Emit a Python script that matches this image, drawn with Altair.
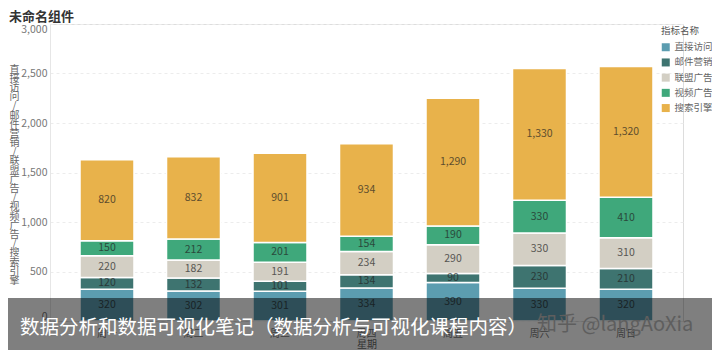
import altair as alt
import pandas as pd

days = ["周一", "周二", "周三", "周四", "周五", "周六", "周日"]
series = ["直接访问", "邮件营销", "联盟广告", "视频广告", "搜索引擎"]
direct = [320, 302, 301, 334, 390, 330, 320]
email = [120, 132, 101, 134, 90, 230, 210]
union = [220, 182, 191, 234, 290, 330, 310]
video = [150, 212, 201, 154, 190, 330, 410]
search = [820, 832, 901, 934, 1290, 1330, 1320]
colors = ["#5c9db0", "#3e7470", "#d3cfc4", "#3fa87b", "#e8b24b"]
y_ticks = [0, 500, 1000, 1500, 2000, 2500, 3000]
chart_title = "未命名组件"
banner_text = "数据分析和数据可视化笔记（数据分析与可视化课程内容）"
watermark_text = "知乎 @langAoXia"
y_title = "直接访问/邮件营销/联盟广告/视频广告/搜索引擎"

FONT = "Noto Sans CJK SC"

rows = []
for si, (name, vals) in enumerate(zip(series, [direct, email, union, video, search])):
    for d, v in zip(days, vals):
        rows.append({"day": d, "series": name, "value": v, "order": si})
df = pd.DataFrame(rows)

base = alt.Chart(df).transform_stack(
    stack="value", as_=["v0", "v1"], groupby=["day"],
    sort=[alt.SortField("order", order="ascending")]
).transform_calculate(mid="(datum.v0 + datum.v1) / 2")

x_enc = alt.X(
    "day:N", sort=days,
    scale=alt.Scale(paddingInner=0.376, paddingOuter=0.347),
    axis=alt.Axis(
        title="星期", labelAngle=0, ticks=False, domain=False,
        labelColor="#777", labelFontSize=10, labelPadding=7,
        titleColor="#666", titleFontSize=10, titleFontWeight="normal",
        titlePadding=1,
    ),
)

y_enc = alt.Y(
    "v0:Q",
    scale=alt.Scale(domain=[0, 3000], nice=False),
    axis=alt.Axis(
        values=y_ticks, format=",.0f", labelFlush=True, ticks=False,
        domainColor="#e6e6e6", labelColor="#777", labelFontSize=10.5,
        labelPadding=3, gridColor="#ececec", gridDash=[3, 3],
        title=list(y_title), titleAngle=0, titleX=-36, titleY=45,
        titleAlign="center", titleBaseline="middle", titleLineHeight=9.2,
        titleFontSize=10, titleColor="#666", titleFontWeight="normal",
    ),
)

bars = base.mark_bar(stroke="white", strokeWidth=1.5).encode(
    x=x_enc,
    y=y_enc,
    y2="v1:Q",
    color=alt.Color(
        "series:N",
        scale=alt.Scale(domain=series, range=colors),
        legend=alt.Legend(
            title="指标名称", orient="none", legendX=611, legendY=2,
            symbolType="square", symbolSize=64, symbolStrokeWidth=0,
            labelFontSize=9.5, labelColor="#666", titleFontSize=9.5,
            titleColor="#555", titleFontWeight="normal", rowPadding=4.2,
            titlePadding=7, labelOffset=4,
        ),
    ),
)

labels = base.mark_text(fontSize=10.5, color="#222", opacity=0.7, font=FONT).encode(
    x=alt.X("day:N", sort=days),
    y="mid:Q",
    text=alt.Text("value:Q", format=","),
)

one = pd.DataFrame({"a": [0]})
title_mark = alt.Chart(one).mark_text(
    align="left", baseline="middle", fontSize=13, fontWeight="bold",
    color="#333", font=FONT
).encode(x=alt.value(-41), y=alt.value(-7), text=alt.value(chart_title))
banner = alt.Chart(one).mark_rect(color="black", opacity=0.5).encode(
    x=alt.value(-50), x2=alt.value(700), y=alt.value(274), y2=alt.value(340)
)
btext = alt.Chart(one).mark_text(
    align="left", baseline="middle", fontSize=19.5, color="white", font=FONT
).encode(x=alt.value(-30), y=alt.value(304), text=alt.value(banner_text))
wtext = alt.Chart(one).mark_text(
    align="left", baseline="middle", fontSize=20, color="#5e5e5e", font=FONT
).encode(x=alt.value(487), y=alt.value(301), text=alt.value(watermark_text))

chart = alt.layer(bars, labels, title_mark, banner, btext, wtext).properties(
    width=633, height=297,
    autosize=alt.AutoSizeParams(type="none"),
    padding={"left": 42, "top": 16, "right": 29, "bottom": 29},
).configure_view(stroke=None).configure(font=FONT)

chart.save("out.html", embed_options={"renderer": "svg", "actions": False})
